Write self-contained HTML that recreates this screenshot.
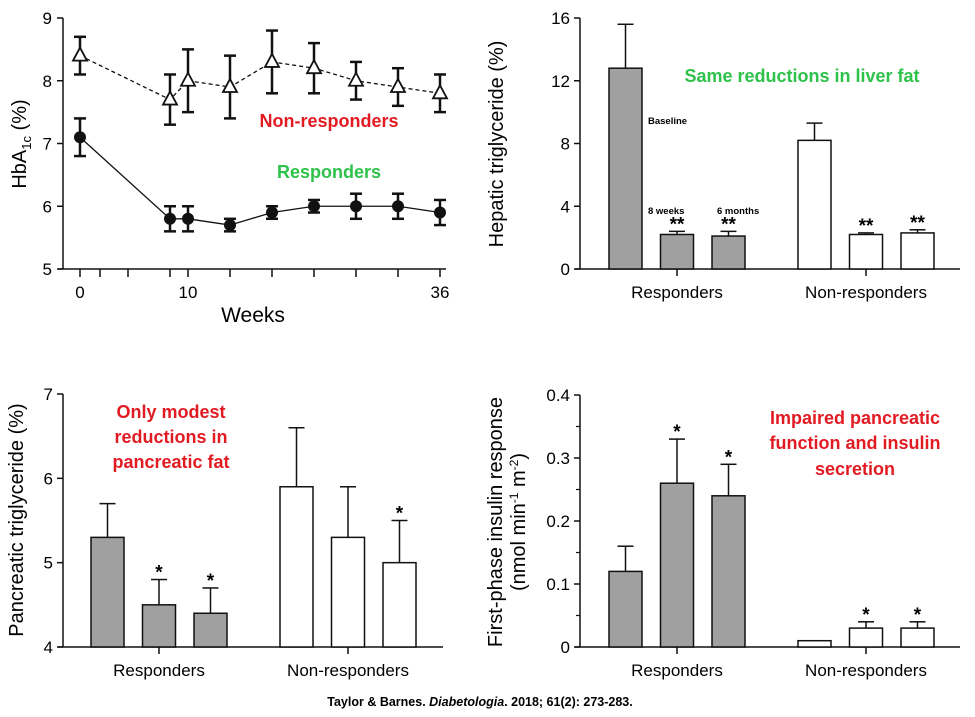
<!DOCTYPE html>
<html><head><meta charset="utf-8"><style>
body{margin:0;background:#fff;}
svg{display:block;font-family:"Liberation Sans",Arial,sans-serif;}
</style></head><body>
<svg id="c" width="975" height="717" viewBox="0 0 975 717">
<text x="480" y="706" text-anchor="middle" font-size="12.5" font-weight="bold">Taylor &amp; Barnes. <tspan font-style="italic">Diabetologia</tspan>. 2018; 61(2): 273-283.</text>
</svg>
<script>
// Panel A: HbA1c line chart
const weeks=[0,9,10.8,15,19.2,23.4,27.6,31.8,36];
const respMean=[7.1,5.8,5.8,5.7,5.9,6.0,6.0,6.0,5.9];
const respErr=[0.3,0.2,0.2,0.1,0.1,0.1,0.2,0.2,0.2];
const nonMean=[8.4,7.7,8.0,7.9,8.3,8.2,8.0,7.9,7.8];
const nonErr=[0.3,0.4,0.5,0.5,0.5,0.4,0.3,0.3,0.3];
const hbaTicks=[5,6,7,8,9];
// Panel B: hepatic TG
const groups=["Responders","Non-responders"];
const hepR=[12.8,2.2,2.1], hepRErr=[2.8,0.2,0.3];
const hepN=[8.2,2.2,2.3], hepNErr=[1.1,0.1,0.2];
const hepTicks=[0,4,8,12,16];
// Panel C: pancreatic TG
const panR=[5.3,4.5,4.4], panRErr=[0.4,0.3,0.3];
const panN=[5.9,5.3,5.0], panNErr=[0.7,0.6,0.5];
const panTicks=[4,5,6,7];
// Panel D: insulin response
const insR=[0.12,0.26,0.24], insRErr=[0.04,0.07,0.05];
const insN=[0.01,0.03,0.03], insNErr=[0,0.01,0.01];
const insTicks=[0,0.1,0.2,0.3,0.4];

const svg=document.getElementById('c');
const NS='http://www.w3.org/2000/svg';
function mk(tag,at,txt){const e=document.createElementNS(NS,tag);for(const k in at)e.setAttribute(k,at[k]);if(txt!=null)e.textContent=txt;svg.appendChild(e);return e;}
function ln(x1,y1,x2,y2,w,extra){return mk('line',Object.assign({x1,y1,x2,y2,stroke:'#111','stroke-width':w||1.5},extra||{}));}

// ---- Panel A
(function(){
 const sx=w=>80+(w-0)/36*360, sy=v=>269-(v-5)/4*251;
 let e=ln(63,18,63,269,1.5);
 
 e=ln(58,269,446,269,1.5);
 
 hbaTicks.forEach(t=>{ln(57,sy(t),63,sy(t));
  const tx=mk('text',{x:52,y:sy(t)+6,'text-anchor':'end','font-size':17},String(t));
  });
 [0,2,4.8].concat(weeks.slice(1)).forEach(w=>ln(sx(w),269,sx(w),277));
 [[0,'0'],[10.8,'10'],[36,'36']].forEach(a=>{const tx=mk('text',{x:sx(a[0]),y:298,'text-anchor':'middle','font-size':17},a[1]);
  });
 e=mk('text',{x:253,y:322,'text-anchor':'middle','font-size':21},'Weeks');
 
 e=mk('text',{transform:'translate(26,144) rotate(-90)','text-anchor':'middle','font-size':20});
 e.innerHTML='HbA<tspan font-size="13" dy="5">1c</tspan><tspan dy="-5"> (%)</tspan>';
 
 function series(m,er,dash,name){
  let d=weeks.map((w,i)=>(i?'L':'M')+sx(w)+' '+sy(m[i])).join(' ');
  const p=mk('path',{d,fill:'none',stroke:'#111','stroke-width':1.3,'stroke-dasharray':dash||'none'});
  
  weeks.forEach((w,i)=>{const x=sx(w);
   ln(x,sy(m[i]+er[i]),x,sy(m[i]-er[i]),2.5);
   ln(x-6,sy(m[i]+er[i]),x+6,sy(m[i]+er[i]),2.5);ln(x-6,sy(m[i]-er[i]),x+6,sy(m[i]-er[i]),2.5);
   let mm;
   if(name==='responders') mm=mk('circle',{cx:x,cy:sy(m[i]),r:6,fill:'#111'});
   else {const y=sy(m[i]);mm=mk('path',{d:`M${x} ${y-8}L${x+7} ${y+5}L${x-7} ${y+5}Z`,fill:'#fff',stroke:'#111','stroke-width':1.8});}
   
  });
 }
 series(nonMean,nonErr,'4,3','non-responders');
 series(respMean,respErr,null,'responders');
 e=mk('text',{x:329,y:127,'text-anchor':'middle','font-size':18,'font-weight':'bold',fill:'#e21b23'},'Non-responders');
 
 e=mk('text',{x:329,y:178,'text-anchor':'middle','font-size':18,'font-weight':'bold',fill:'#2ec24a'},'Responders');
 
})();

// ---- Bar panels
function barPanel(o){
 const sy=v=>o.y0-(v-o.min)/(o.max-o.min)*(o.y0-o.y1);
 let e=ln(o.ax,o.y1,o.ax,o.y0,1.5);
 
 e=ln(o.ax-5,o.y0,o.xend,o.y0,1.5);
 
 o.ticks.forEach(t=>{ln(o.ax-6,sy(t),o.ax,sy(t));
  const tx=mk('text',{x:o.ax-10,y:sy(t)+6,'text-anchor':'end','font-size':17},o.fmt?o.fmt(t):String(t));
  });
 if(o.minor) o.minor.forEach(t=>ln(o.ax-4,sy(t),o.ax,sy(t),1.2));
 const gs=[[o.r,o.rErr,'#a0a0a0',o.rStars],[o.n,o.nErr,'#fff',o.nStars]];
 gs.forEach((g,gi)=>{
  g[0].forEach((v,i)=>{
   const x=o.bx[gi]+i*51.5, w=33, cx=x+w/2;
   if(g[1][i]>0){ln(cx,sy(v),cx,sy(v+g[1][i]),1.5);ln(cx-8,sy(v+g[1][i]),cx+8,sy(v+g[1][i]),1.5);}
   const r=mk('rect',{x,y:sy(v),width:w,height:o.y0-sy(v),fill:g[2],stroke:'#111','stroke-width':1.5});
   
   if(g[3][i]){const s=mk('text',{x:cx,y:sy(v+g[1][i])-1,'text-anchor':'middle','font-size':19,'font-weight':'bold'},g[3][i]);
    }
  });
  const gc=o.bx[gi]+51.5+16.5;
  ln(gc,o.y0,gc,o.y0+7);
  const t=mk('text',{x:gc,y:o.y0+29,'text-anchor':'middle','font-size':17},groups[gi]);
  
 });
}
barPanel({id:'hepatic',ax:580,xend:960,y0:269,y1:18,min:0,max:16,ticks:hepTicks,bx:[609,798],
 r:hepR,rErr:hepRErr,n:hepN,nErr:hepNErr,rStars:['','**','**'],nStars:['','**','**']});
barPanel({id:'pancreatic',ax:63,xend:443,y0:647,y1:394,min:4,max:7,ticks:panTicks,bx:[91,280],
 r:panR,rErr:panRErr,n:panN,nErr:panNErr,rStars:['','*','*'],nStars:['','','*']});
barPanel({id:'insulin',ax:580,xend:960,y0:647,y1:395,min:0,max:0.4,ticks:insTicks,minor:[0.05,0.15,0.25,0.35],
 fmt:t=>t===0?'0':t.toFixed(1),bx:[609,798],
 r:insR,rErr:insRErr,n:insN,nErr:insNErr,rStars:['','*','*'],nStars:['','*','*']});

function txt(at,s,name){const e=mk('text',at,s);return e;}
txt({transform:'translate(503,144) rotate(-90)','text-anchor':'middle','font-size':20},'Hepatic triglyceride (%)','hepatic-y-axis-title');
txt({transform:'translate(23,520) rotate(-90)','text-anchor':'middle','font-size':20},'Pancreatic triglyceride (%)','pancreatic-y-axis-title');
txt({transform:'translate(502,522) rotate(-90)','text-anchor':'middle','font-size':20},'First-phase insulin response','insulin-y-axis-title-line1');
const u=txt({transform:'translate(525,522) rotate(-90)','text-anchor':'middle','font-size':20},'','insulin-y-axis-title-line2');
u.innerHTML='(nmol min<tspan font-size="12" dy="-7">-1</tspan><tspan dy="7"> m</tspan><tspan font-size="12" dy="-7">-2</tspan><tspan dy="7">)</tspan>';
txt({x:802,y:82,'text-anchor':'middle','font-size':18,'font-weight':'bold',fill:'#2ec24a'},'Same reductions in liver fat','liver-fat-annotation');
txt({x:648,y:124,'font-size':9.5,'font-weight':'bold'},'Baseline','baseline-label');
txt({x:648,y:214,'font-size':9.5,'font-weight':'bold'},'8 weeks','8-weeks-label');
txt({x:717,y:214,'font-size':9.5,'font-weight':'bold'},'6 months','6-months-label');
[['Only modest',418],['reductions in',443],['pancreatic fat',468]].forEach(a=>
 txt({x:171,y:a[1],'text-anchor':'middle','font-size':18,'font-weight':'bold',fill:'#e21b23'},a[0],'pancreatic-fat-annotation'));
[['Impaired pancreatic',424],['function and insulin',449],['secretion',475]].forEach(a=>
 txt({x:855,y:a[1],'text-anchor':'middle','font-size':18,'font-weight':'bold',fill:'#e21b23'},a[0],'insulin-annotation'));
</script>
</body></html>
